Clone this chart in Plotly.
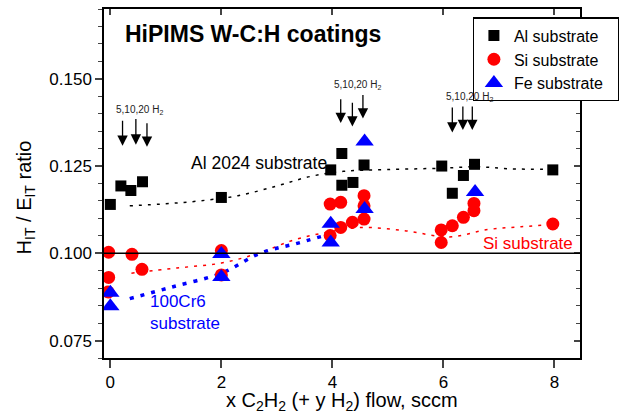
import plotly.graph_objects as go

# ---- data ----
AL_X = [0, 0.19, 0.37, 0.58, 2, 3.97, 4.17, 4.17, 4.37, 4.57, 5.97, 6.16, 6.36, 6.56, 7.97]
AL_Y = [0.1140, 0.1193, 0.1180, 0.1205, 0.1160, 0.1239, 0.1286, 0.1195, 0.1203, 0.1253,
        0.1250, 0.1172, 0.1223, 0.1255, 0.1239]

SI_X = [-0.03, 0.39, 0.57, -0.03, -0.04, 2, 2, 3.96, 4.15, 4.57, 4.57, 4.57, 4.36, 4.15,
        3.96, 5.96, 5.96, 6.16, 6.36, 6.55, 6.55, 7.97]
SI_Y = [0.1003, 0.0997, 0.0954, 0.0931, 0.0889, 0.1008, 0.0938, 0.1141, 0.1146, 0.1165,
        0.1136, 0.1098, 0.1089, 0.1074, 0.1051, 0.1067, 0.1031, 0.1079, 0.1103, 0.1122,
        0.1143, 0.1084]

FE_X = [0, 0, 2, 2, 3.97, 3.97, 4.58, 4.58, 6.57]
FE_Y = [0.0887, 0.0848, 0.0998, 0.0932, 0.1085, 0.1031, 0.1320, 0.1127, 0.1176]

AL_TREND_X = [0.35, 1.0, 1.6, 2.3, 3.0, 3.6, 4.2, 5.0, 6.0, 6.6, 7.2, 8.0]
AL_TREND_Y = [0.1136, 0.1142, 0.1150, 0.1165, 0.1193, 0.1220, 0.1235, 0.1240, 0.1244,
              0.1248, 0.1242, 0.1241]

SI_TREND_X = [0.38, 1.2, 2.0, 2.7, 3.3, 3.9, 4.5, 5.3, 6.1, 6.8, 7.4, 8.0]
SI_TREND_Y = [0.0943, 0.0958, 0.0972, 0.1002, 0.1038, 0.1060, 0.1074, 0.1065, 0.1047,
              0.1068, 0.1076, 0.1083]

FE_TREND_X = [0.35, 1.1, 2.0, 2.7, 3.4, 4.1]
FE_TREND_Y = [0.0870, 0.0903, 0.0943, 0.1000, 0.1030, 0.1062]

SERIES_NAMES = ["Al substrate", "Si substrate", "Fe substrate"]

REF_LINE = 0.100
X_TICKS = [0, 2, 4, 6, 8]
Y_TICKS = [0.075, 0.100, 0.125, 0.150]
Y_TICK_LABELS = ["0.075", "0.100", "0.125", "0.150"]

# H2 arrows: (x, tail_y, tip_y)
ARROWS = [
    (0.22, 0.1384, 0.1308), (0.46, 0.1389, 0.1311), (0.66, 0.1377, 0.1305),
    (4.15, 0.1446, 0.1373), (4.36, 0.1436, 0.1363), (4.55, 0.1458, 0.1386),
    (6.16, 0.1422, 0.1346), (6.35, 0.1425, 0.1353), (6.52, 0.1425, 0.1353),
]
H2_LABELS = [(0.52, 0.1410), (4.46, 0.1481), (6.47, 0.1447)]

FONT = "Liberation Sans, Arial, Helvetica, sans-serif"
XR = [-0.114, 8.46]
YR = [0.070, 0.170]
PAD = "\u00a0" * 2  # small right padding inside legend box

fig = go.Figure()

# trend lines
fig.add_trace(go.Scatter(x=AL_TREND_X, y=AL_TREND_Y, mode="lines", showlegend=False,
                         line=dict(color="black", width=1.5, dash="3px,6px", shape="spline")))
fig.add_trace(go.Scatter(x=SI_TREND_X, y=SI_TREND_Y, mode="lines", showlegend=False,
                         line=dict(color="#ff0000", width=1.5, dash="3px,6px", shape="spline")))
fig.add_trace(go.Scatter(x=FE_TREND_X, y=FE_TREND_Y, mode="lines", showlegend=False,
                         line=dict(color="#0000ff", width=3.5, dash="4px,7px", shape="spline")))

# markers
fig.add_trace(go.Scatter(x=AL_X, y=AL_Y, mode="markers", name=SERIES_NAMES[0] + PAD,
                         marker=dict(symbol="square", size=11, color="black", line=dict(width=0))))
fig.add_trace(go.Scatter(x=SI_X, y=SI_Y, mode="markers", name=SERIES_NAMES[1] + PAD,
                         marker=dict(symbol="circle", size=13, color="#ff0000", line=dict(width=0))))
fig.add_trace(go.Scatter(x=FE_X, y=FE_Y, mode="markers", name=SERIES_NAMES[2] + PAD,
                         marker=dict(symbol="triangle-up", size=16, color="#0000ff", line=dict(width=0))))

# invisible trace for mirrored axes
fig.add_trace(go.Scatter(x=[XR[0]], y=[YR[0]], xaxis="x2", yaxis="y2", mode="markers",
                         marker=dict(opacity=0), showlegend=False, hoverinfo="skip"))

ann = []
ann.append(dict(x=0.23, y=0.1628, xref="x", yref="y", xanchor="left", yanchor="middle",
                text="<b>HiPIMS W-C:H coatings</b>", showarrow=False,
                font=dict(family=FONT, size=23, color="black")))
ann.append(dict(x=2.68, y=0.1259, xref="x", yref="y", text="Al 2024 substrate", showarrow=False,
                font=dict(family=FONT, size=17.5, color="black")))
ann.append(dict(x=7.52, y=0.1027, xref="x", yref="y", text="Si substrate", showarrow=False,
                font=dict(family=FONT, size=17, color="#ff0000")))
ann.append(dict(x=0.68, y=0.0829, xref="x", yref="y", xanchor="left", align="left",
                text="100Cr6<br>substrate", showarrow=False,
                font=dict(family=FONT, size=17, color="#0000ff")))
for (lx, ly) in H2_LABELS:
    ann.append(dict(x=lx, y=ly, xref="x", yref="y", text="5,10,20 H<sub>2</sub>", showarrow=False,
                    font=dict(family=FONT, size=10, color="#222222")))
for (axx, ty, hy) in ARROWS:
    ann.append(dict(x=axx, y=hy, ax=axx, ay=ty, xref="x", yref="y", axref="x", ayref="y",
                    text="", showarrow=True, arrowhead=2, arrowsize=1.6, arrowwidth=1.3,
                    arrowcolor="black"))
# axis titles
ann.append(dict(x=0.5, y=-0.125, xref="paper", yref="paper", xanchor="center", yanchor="middle",
                text="x C<sub>2</sub>H<sub>2</sub> (+ y H<sub>2</sub>) flow, sccm", showarrow=False,
                font=dict(family=FONT, size=20, color="black")))
ann.append(dict(x=-0.166, y=0.46, xref="paper", yref="paper", xanchor="center", yanchor="middle",
                textangle=-90,
                text="H<sub>IT</sub> / E<sub>IT</sub> ratio", showarrow=False,
                font=dict(family=FONT, size=20, color="black")))

fig.update_layout(
    width=632, height=416,
    margin=dict(l=104, r=52, t=9, b=58),
    paper_bgcolor="white", plot_bgcolor="white",
    font=dict(family=FONT, size=17, color="black"),
    annotations=ann,
    shapes=[dict(type="line", xref="paper", yref="y", x0=0, x1=1, y0=REF_LINE, y1=REF_LINE,
                 line=dict(color="black", width=1.5))],
    legend=dict(x=0.7746, y=0.976, xanchor="left", yanchor="top", bgcolor="white",
                bordercolor="black", borderwidth=1.2, font=dict(family=FONT, size=16),
                tracegroupgap=0),
    xaxis=dict(range=XR, tickvals=X_TICKS, ticks="outside", ticklen=8, tickwidth=1.5,
               showline=True, linewidth=1.5, linecolor="black", showgrid=False, zeroline=False,
               tickfont=dict(family=FONT, size=17)),
    yaxis=dict(range=YR, tickvals=Y_TICKS, ticktext=Y_TICK_LABELS, ticks="outside", ticklen=7,
               tickwidth=1.5, showline=True, linewidth=1.5, linecolor="black", showgrid=False,
               zeroline=False, tickfont=dict(family=FONT, size=17),
               minor=dict(dtick=0.005, tick0=0, ticks="outside", ticklen=4, tickwidth=1.2,
                          showgrid=False)),
    xaxis2=dict(range=XR, overlaying="x", side="top", tickvals=X_TICKS, ticks="inside",
                ticklen=6, tickwidth=1.5, showticklabels=False, showline=True, linewidth=1.5,
                linecolor="black", showgrid=False, zeroline=False),
    yaxis2=dict(range=YR, overlaying="y", side="right", tickvals=Y_TICKS, ticks="inside",
                ticklen=6, tickwidth=1.5, showticklabels=False, showline=True, linewidth=1.5,
                linecolor="black", showgrid=False, zeroline=False,
                minor=dict(dtick=0.005, tick0=0, ticks="inside", ticklen=4, tickwidth=1.2,
                           showgrid=False)),
)

fig.write_html("out.html", config={"displayModeBar": False},
               post_script="document.body.style.margin='0';")
